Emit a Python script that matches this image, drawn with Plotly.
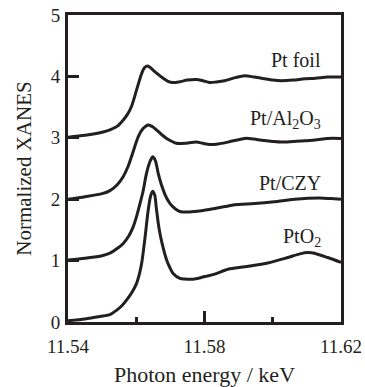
import plotly.graph_objects as go

# ---- data (photon energy in keV, normalized XANES with vertical offsets) ----
foil_E = [11.540, 11.545, 11.550, 11.5523, 11.5545, 11.5562, 11.5575, 11.5586, 11.5601, 11.5616,
          11.5624, 11.5632, 11.5640, 11.5650, 11.5665, 11.5679, 11.5693, 11.5708, 11.5725, 11.5750,
          11.5776, 11.5795, 11.5815, 11.5835, 11.5859, 11.5890, 11.5918, 11.5945, 11.5967, 11.6000,
          11.6025, 11.6060, 11.6093, 11.6125, 11.6161, 11.6200]
foil_y = [3.01, 3.04, 3.09, 3.13, 3.19, 3.29, 3.39, 3.51, 3.78, 4.05,
          4.14, 4.17, 4.15, 4.10, 4.03, 3.97, 3.92, 3.90, 3.91, 3.94,
          3.95, 3.93, 3.90, 3.91, 3.93, 3.98, 4.01, 3.99, 3.97, 3.94,
          3.93, 3.94, 3.96, 3.97, 3.99, 3.99]

al_E = [11.540, 11.545, 11.550, 11.5523, 11.5545, 11.5562, 11.5575, 11.5586, 11.5606, 11.5620,
        11.5635, 11.5648, 11.5659, 11.5675, 11.5689, 11.5705, 11.5718, 11.5742, 11.5776, 11.5795,
        11.5815, 11.5840, 11.5869, 11.5918, 11.5945, 11.5967, 11.6000, 11.6025, 11.6060, 11.6093,
        11.6130, 11.6161, 11.6200]
al_y = [2.00, 2.04, 2.09, 2.14, 2.24, 2.37, 2.52, 2.69, 3.02, 3.15,
        3.21, 3.18, 3.13, 3.05, 2.99, 2.94, 2.91, 2.91, 2.93, 2.91,
        2.89, 2.90, 2.93, 2.99, 2.98, 2.96, 2.94, 2.93, 2.94, 2.95,
        2.97, 2.99, 2.99]

czy_E = [11.540, 11.545, 11.550, 11.5523, 11.5545, 11.5562, 11.5578, 11.5591, 11.5601, 11.5611,
         11.5620, 11.5630, 11.5640, 11.5648, 11.5656, 11.5664, 11.5674, 11.5684, 11.5694, 11.5703,
         11.5715, 11.5728, 11.5747, 11.5771, 11.5800, 11.5830, 11.5860, 11.5888, 11.5947, 11.6005,
         11.6064, 11.6137, 11.6170, 11.6200]
czy_y = [1.01, 1.04, 1.08, 1.12, 1.20, 1.28, 1.40, 1.55, 1.72, 1.93,
         2.13, 2.42, 2.61, 2.69, 2.63, 2.43, 2.23, 2.08, 1.97, 1.90,
         1.84, 1.80, 1.79, 1.80, 1.82, 1.85, 1.88, 1.91, 1.93, 1.96,
         2.00, 2.02, 2.01, 2.00]

pto2_E = [11.540, 11.545, 11.5494, 11.5523, 11.5542, 11.5557, 11.5572, 11.5588, 11.5601, 11.5610,
          11.5616, 11.5625, 11.5635, 11.5642, 11.5648, 11.5654, 11.5659, 11.5666, 11.5674, 11.5689,
          11.5699, 11.5708, 11.5728, 11.5742, 11.5771, 11.5801, 11.5830, 11.5869, 11.5918, 11.5986,
          11.6044, 11.6080, 11.6103, 11.6122, 11.6161, 11.6200]
pto2_y = [0.02, 0.05, 0.09, 0.12, 0.19, 0.26, 0.36, 0.49, 0.63, 0.80,
          0.96, 1.34, 1.82, 2.05, 2.13, 2.07, 1.85, 1.55, 1.32, 1.01,
          0.88, 0.79, 0.71, 0.70, 0.70, 0.74, 0.78, 0.86, 0.90, 0.96,
          1.05, 1.11, 1.13, 1.12, 1.05, 0.97]

labels = ["Pt foil", "Pt/Al<sub>2</sub>O<sub>3</sub>", "Pt/CZY", "PtO<sub>2</sub>"]
label_y = [4.27, 3.29, 2.26, 1.37]
label_x = 11.6146

x_ticks = [11.54, 11.58, 11.62]
x_ticktext = ["11.54", "11.58", "11.62"]
y_ticks = [0, 1, 2, 3, 4, 5]

INK = "#231f20"
FONT = "Liberation Serif"

fig = go.Figure()
for E, y in [(foil_E, foil_y), (al_E, al_y), (czy_E, czy_y), (pto2_E, pto2_y)]:
    fig.add_trace(go.Scatter(x=E, y=y, mode="lines",
                             line=dict(color=INK, width=3, shape="spline", smoothing=0.8),
                             showlegend=False, hoverinfo="skip"))

for txt, yy in zip(labels, label_y):
    fig.add_annotation(x=label_x, y=yy, xref="x", yref="y", text=txt, showarrow=False,
                       xanchor="right", yanchor="middle",
                       font=dict(family=FONT, size=20, color=INK))

fig.update_layout(
    template="none",
    width=365, height=387,
    margin=dict(l=68, r=24, t=15, b=65),
    paper_bgcolor="white", plot_bgcolor="white",
    font=dict(family=FONT, size=19, color=INK),
)
fig.update_xaxes(
    automargin=False,
    range=[11.54, 11.62], tickvals=x_ticks, ticktext=x_ticktext,
    ticks="inside", ticklen=11, tickwidth=3, tickcolor=INK,
    minor=dict(tickvals=[11.56, 11.60], ticks="inside", ticklen=5, tickwidth=3, tickcolor=INK, showgrid=False),
    showline=True, linecolor=INK, linewidth=3, mirror=True,
    showgrid=False, zeroline=False,
    tickfont=dict(family=FONT, size=19, color=INK),
    ticklabelstandoff=5,
    title=dict(text="Photon energy / keV", font=dict(family=FONT, size=22, color=INK), standoff=15),
)
fig.update_yaxes(
    automargin=False,
    range=[0, 5], tickvals=y_ticks,
    ticks="inside", ticklen=11, tickwidth=3, tickcolor=INK,
    showline=True, linecolor=INK, linewidth=3, mirror=True,
    showgrid=False, zeroline=False,
    tickfont=dict(family=FONT, size=19, color=INK),
    ticklabelstandoff=1,
    title=dict(text="Normalized XANES", font=dict(family=FONT, size=21, color=INK), standoff=14),
)

fig.write_html("out.html")
